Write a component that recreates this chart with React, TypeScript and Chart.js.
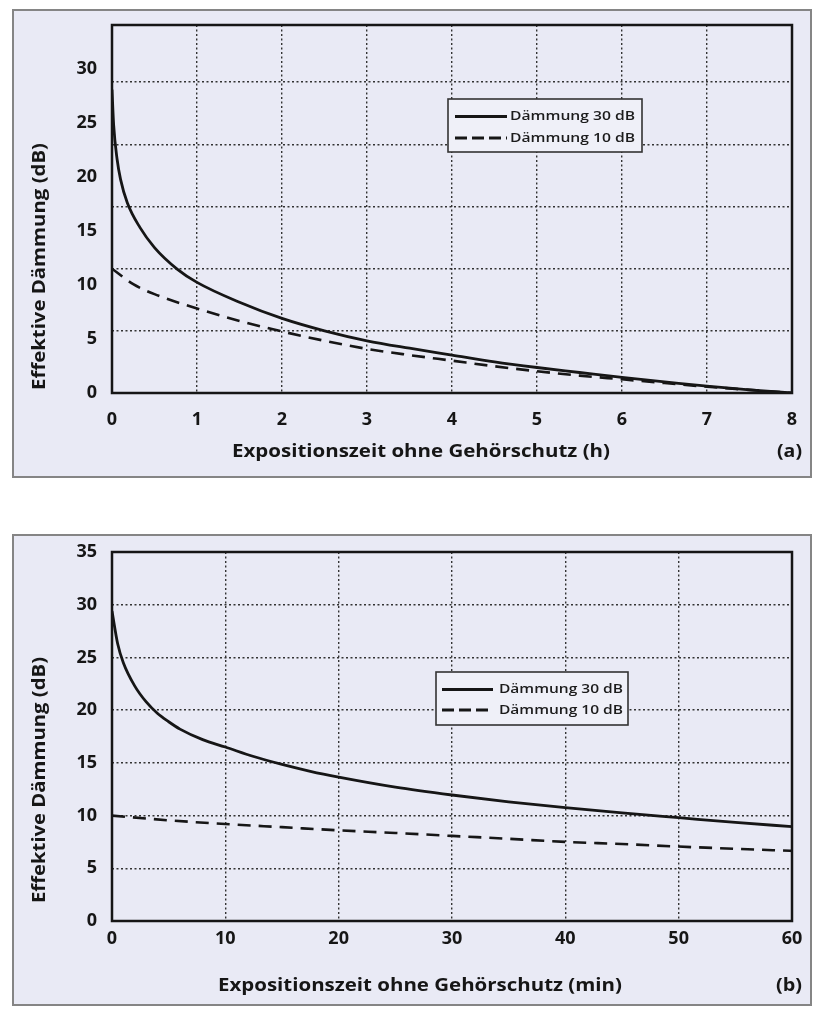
import React, { useEffect, useRef } from "react";
import { Chart, registerables } from "chart.js";

Chart.register(...registerables);

// ---------- Data ----------
// Panel (a): exposure time without hearing protection in hours
const HOURS_30 = [0, 0.02, 0.06, 0.1, 0.18, 0.33, 0.5, 0.77, 1, 1.5, 2, 2.5, 3, 3.5, 4, 4.5, 5, 5.5, 6, 6.5, 7, 7.5, 8];
const DB_30_HOURS = [24.4, 21.5, 18.8, 17.2, 15.3, 13.3, 11.7, 9.95, 8.9, 7.3, 6.0, 5.0, 4.2, 3.6, 3.05, 2.5, 2.05, 1.65, 1.25, 0.9, 0.55, 0.25, 0];
const HOURS_10 = [0, 0.25, 0.5, 1, 1.5, 2, 2.5, 3, 3.5, 4, 4.5, 5, 5.5, 6, 6.5, 7, 7.5, 8];
const DB_10_HOURS = [10, 8.75, 7.95, 6.8, 5.8, 4.95, 4.2, 3.55, 3.05, 2.6, 2.15, 1.75, 1.4, 1.1, 0.8, 0.5, 0.25, 0];

// Panel (b): exposure time without hearing protection in minutes
const MIN_30 = [0, 0.5, 1, 2, 3, 4, 5, 6, 8, 10, 12.5, 15, 17.5, 20, 25, 30, 35, 40, 45, 50, 55, 60];
const DB_30_MIN = [29.4, 26.3, 24.5, 22.3, 20.8, 19.7, 18.9, 18.2, 17.2, 16.5, 15.6, 14.85, 14.2, 13.65, 12.7, 11.95, 11.3, 10.75, 10.25, 9.8, 9.35, 8.95];
const MIN_10 = [0, 5, 10, 15, 20, 25, 30, 35, 40, 45, 50, 55, 60];
const DB_10_MIN = [10, 9.55, 9.2, 8.9, 8.6, 8.35, 8.07, 7.8, 7.5, 7.3, 7.06, 6.85, 6.65];

// Axis ranges / ticks
const X_MAX_A = 8;
const X_STEP_A = 1;
const X_MAX_B = 60;
const X_STEP_B = 10;
const Y_STEP = 5;
const Y_LABEL_MAX_A = 34.07; // the printed labels of (a) sit on a compressed scale
const Y_DATA_MAX_A = 29.6;
const Y_MAX_B = 35;

// Texts
const SERIES_LABELS = ["Dämmung 30 dB", "Dämmung 10 dB"];
const Y_TITLE = "Effektive Dämmung (dB)";
const X_TITLE_A = "Expositionszeit ohne Gehörschutz (h)";
const X_TITLE_B = "Expositionszeit ohne Gehörschutz (min)";
const PANEL_TAG_A = "(a)";
const PANEL_TAG_B = "(b)";

const FONT = '"Open Sans", "DejaVu Sans", sans-serif';
const INK = "#161616";
const GRID = "#333333";
const PANEL_BG = "#e9eaf5";

type Layout = {
  width: number;
  height: number;
  padTop: number;
  padRight: number;
  yWidth: number;
  xHeight: number;
  xTickPad: number;
  legend: { x: number; y: number; w: number; h: number; lineX0: number; lineX1: number; row1: number; row2: number; textX: number; textW: number };
  yTitle: { cx: number; cy: number; w: number };
  xTitle: { cx: number; base: number; w: number };
  tag: { cx: number; base: number; w: number };
};

function fitText(ctx: CanvasRenderingContext2D, text: string, w: number) {
  const m = ctx.measureText(text).width || 1;
  ctx.scale(w / m, 1);
  ctx.fillText(text, 0, 0);
}

function makeDecor(L: Layout, xTitle: string, tag: string) {
  return {
    id: "decor",
    afterDraw(chart: any) {
      const ctx: CanvasRenderingContext2D = chart.ctx;
      const a = chart.chartArea;
      ctx.save();
      // plot frame
      ctx.strokeStyle = INK;
      ctx.lineWidth = 2.5;
      ctx.setLineDash([]);
      ctx.strokeRect(a.left, a.top, a.right - a.left, a.bottom - a.top);

      // legend
      const g = L.legend;
      ctx.fillStyle = "#eff0f8";
      ctx.fillRect(g.x, g.y, g.w, g.h);
      ctx.strokeStyle = "#333";
      ctx.lineWidth = 1.6;
      ctx.strokeRect(g.x, g.y, g.w, g.h);
      ctx.strokeStyle = INK;
      ctx.lineWidth = 3;
      ctx.beginPath();
      ctx.moveTo(g.lineX0, g.row1);
      ctx.lineTo(g.lineX1, g.row1);
      ctx.stroke();
      ctx.setLineDash([12, 5]);
      ctx.beginPath();
      ctx.moveTo(g.lineX0, g.row2);
      ctx.lineTo(g.lineX1, g.row2);
      ctx.stroke();
      ctx.setLineDash([]);
      ctx.fillStyle = "#1c1c1c";
      ctx.font = `600 13px ${FONT}`;
      ctx.textAlign = "left";
      ctx.textBaseline = "middle";
      [g.row1, g.row2].forEach((ry, i) => {
        ctx.save();
        ctx.translate(g.textX, ry);
        fitText(ctx, SERIES_LABELS[i], g.textW);
        ctx.restore();
      });

      // titles
      ctx.fillStyle = INK;
      ctx.font = `bold 18px ${FONT}`;
      ctx.textAlign = "center";
      ctx.textBaseline = "middle";
      ctx.save();
      ctx.translate(L.yTitle.cx, L.yTitle.cy);
      ctx.rotate(-Math.PI / 2);
      fitText(ctx, Y_TITLE, L.yTitle.w);
      ctx.restore();

      ctx.textBaseline = "alphabetic";
      ctx.save();
      ctx.translate(L.xTitle.cx, L.xTitle.base);
      fitText(ctx, xTitle, L.xTitle.w);
      ctx.restore();

      ctx.save();
      ctx.translate(L.tag.cx, L.tag.base);
      fitText(ctx, tag, L.tag.w);
      ctx.restore();
      ctx.restore();
    },
  };
}

function pts(xs: number[], ys: number[]) {
  return xs.map((x, i) => ({ x, y: ys[i] }));
}

function buildConfig(
  L: Layout,
  xMax: number,
  xStep: number,
  yLabelMax: number,
  yDataMax: number,
  s30: { x: number; y: number }[],
  s10: { x: number; y: number }[],
  xTitle: string,
  tag: string
) {
  const tickFont = { family: FONT, size: 18, weight: "bold" as const };
  const zeroPad = (s: any) => {
    s.paddingLeft = 0;
    s.paddingRight = 0;
    s.paddingTop = 0;
    s.paddingBottom = 0;
  };
  return {
    type: "line" as const,
    data: {
      datasets: [
        {
          label: SERIES_LABELS[0],
          data: s30,
          borderColor: INK,
          borderWidth: 2.8,
          pointRadius: 0,
          fill: false,
          cubicInterpolationMode: "monotone" as const,
          xAxisID: "x",
          yAxisID: "yData",
        },
        {
          label: SERIES_LABELS[1],
          data: s10,
          borderColor: INK,
          borderWidth: 2.6,
          borderDash: [13, 8],
          pointRadius: 0,
          fill: false,
          cubicInterpolationMode: "monotone" as const,
          xAxisID: "x",
          yAxisID: "yData",
        },
      ],
    },
    options: {
      responsive: false,
      animation: false as const,
      events: [],
      layout: { padding: { top: L.padTop, right: L.padRight, left: 0, bottom: 0 } },
      plugins: { legend: { display: false }, tooltip: { enabled: false } },
      scales: {
        x: {
          type: "linear" as const,
          min: 0,
          max: xMax,
          afterFit: (s: any) => {
            s.height = L.xHeight;
            zeroPad(s);
          },
          ticks: {
            stepSize: xStep,
            autoSkip: false,
            maxRotation: 0,
            padding: L.xTickPad,
            color: INK,
            font: tickFont,
          },
          grid: {
            drawTicks: false,
            lineWidth: 1.4,
            color: (c: any) => (c.tick && (c.tick.value <= 0 || c.tick.value >= xMax) ? "rgba(0,0,0,0)" : GRID),
          },
          border: { display: false, dash: [2, 2.5] },
        },
        yLabel: {
          type: "linear" as const,
          position: "left" as const,
          min: 0,
          max: yLabelMax,
          afterFit: (s: any) => {
            s.width = L.yWidth;
            zeroPad(s);
          },
          ticks: {
            stepSize: Y_STEP,
            includeBounds: false,
            padding: 15,
            color: INK,
            font: tickFont,
          },
          grid: { display: false, drawTicks: false },
          border: { display: false },
        },
        yData: {
          type: "linear" as const,
          position: "left" as const,
          min: 0,
          max: yDataMax,
          afterFit: (s: any) => {
            s.width = 0;
            zeroPad(s);
          },
          ticks: { display: false, stepSize: Y_STEP, includeBounds: false },
          grid: {
            drawTicks: false,
            lineWidth: 1.4,
            color: (c: any) => (c.tick && (c.tick.value <= 0 || c.tick.value >= yDataMax) ? "rgba(0,0,0,0)" : GRID),
          },
          border: { display: false, dash: [2, 2.5] },
        },
      },
    },
    plugins: [makeDecor(L, xTitle, tag)],
  };
}

const LAYOUT_A: Layout = {
  width: 796,
  height: 465,
  padTop: 14,
  padRight: 18,
  yWidth: 98,
  xHeight: 83,
  xTickPad: 16,
  legend: { x: 434, y: 88, w: 194, h: 53, lineX0: 441, lineX1: 493, row1: 105.5, row2: 127, textX: 496, textW: 125 },
  yTitle: { cx: 26, cy: 255.5, w: 247 },
  xTitle: { cx: 407, base: 446, w: 378 },
  tag: { cx: 775.5, base: 446, w: 25 },
};

const LAYOUT_B: Layout = {
  width: 796,
  height: 468,
  padTop: 16,
  padRight: 18,
  yWidth: 98,
  xHeight: 83,
  xTickPad: 7,
  legend: { x: 422, y: 136, w: 192, h: 53, lineX0: 428, lineX1: 479, row1: 153.5, row2: 174, textX: 485, textW: 124 },
  yTitle: { cx: 26, cy: 244, w: 246 },
  xTitle: { cx: 406, base: 455, w: 404 },
  tag: { cx: 775, base: 455, w: 26 },
};

function Panel({ layout, config, top, outerH }: { layout: Layout; config: any; top: number; outerH: number }) {
  const ref = useRef<HTMLCanvasElement | null>(null);
  useEffect(() => {
    if (!ref.current) return;
    const chart = new Chart(ref.current, config);
    return () => chart.destroy();
  }, [config]);
  return (
    <div
      style={{
        position: "absolute",
        left: 12,
        top,
        width: 800,
        height: outerH,
        boxSizing: "border-box",
        border: "2px solid #858585",
        background: PANEL_BG,
      }}
    >
      <canvas ref={ref} width={layout.width} height={layout.height} style={{ display: "block" }} />
    </div>
  );
}

const CONFIG_A = buildConfig(
  LAYOUT_A,
  X_MAX_A,
  X_STEP_A,
  Y_LABEL_MAX_A,
  Y_DATA_MAX_A,
  pts(HOURS_30, DB_30_HOURS),
  pts(HOURS_10, DB_10_HOURS),
  X_TITLE_A,
  PANEL_TAG_A
);

const CONFIG_B = buildConfig(
  LAYOUT_B,
  X_MAX_B,
  X_STEP_B,
  Y_MAX_B,
  Y_MAX_B,
  pts(MIN_30, DB_30_MIN),
  pts(MIN_10, DB_10_MIN),
  X_TITLE_B,
  PANEL_TAG_B
);

export default function App() {
  return (
    <div style={{ position: "absolute", left: 0, top: 0, width: 818, height: 1010, background: "#ffffff", overflow: "hidden" }}>
      <Panel layout={LAYOUT_A} config={CONFIG_A} top={9} outerH={469} />
      <Panel layout={LAYOUT_B} config={CONFIG_B} top={534} outerH={472} />
    </div>
  );
}
